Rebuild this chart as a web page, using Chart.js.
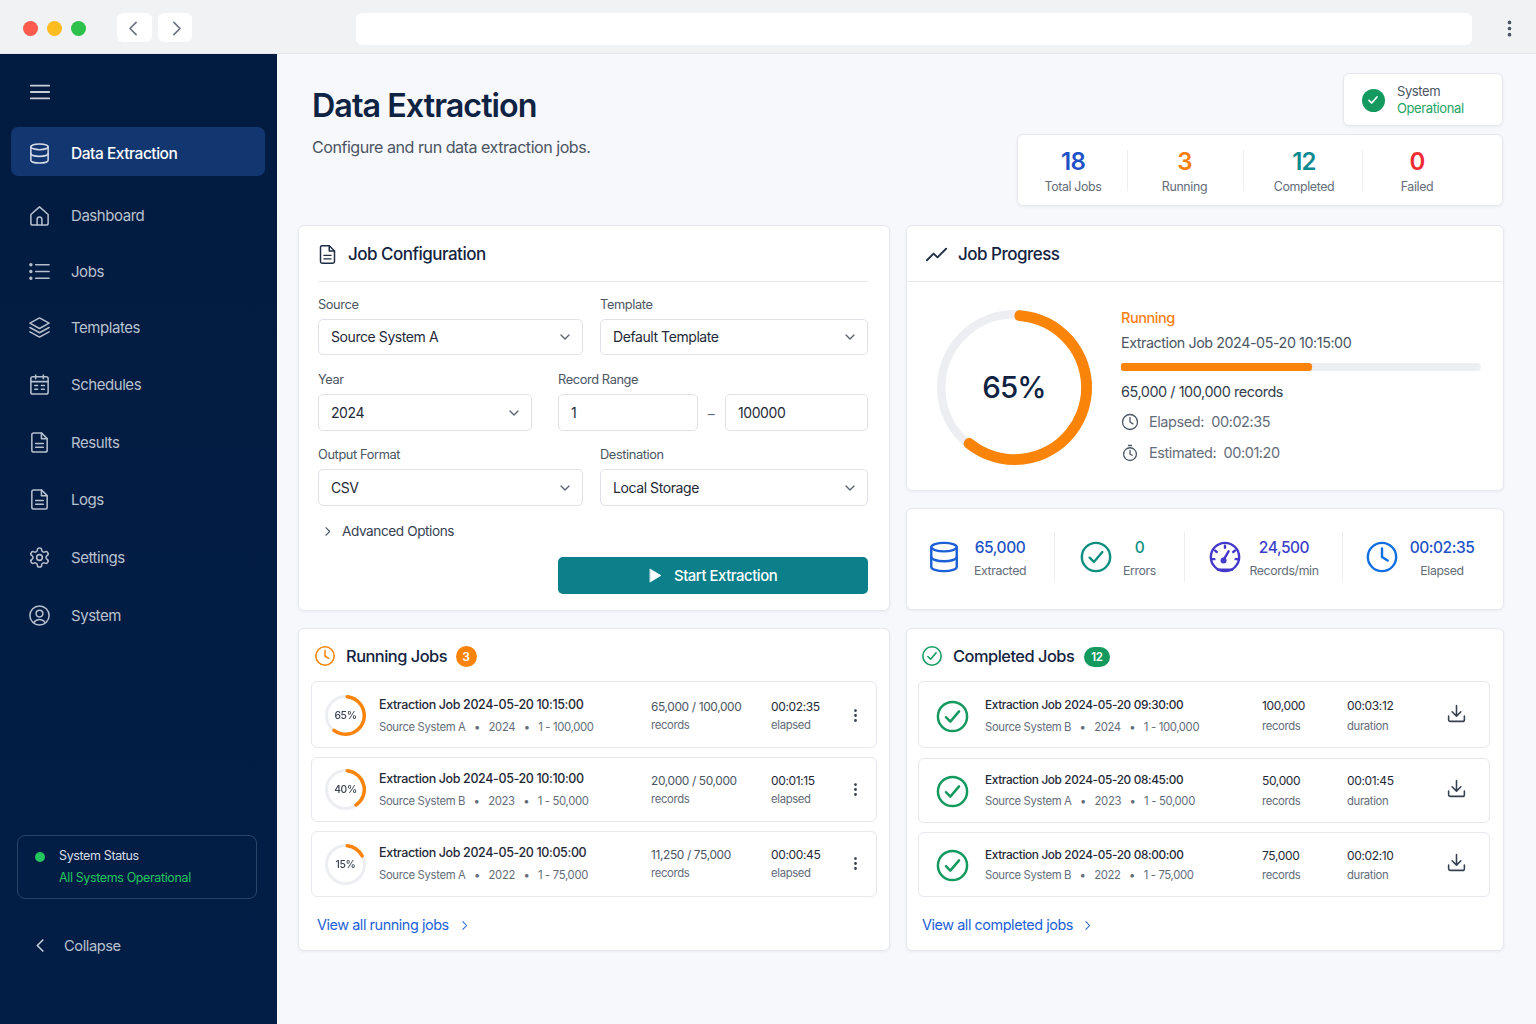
<!DOCTYPE html>
<html>
<head>
<meta charset="utf-8">
<title>Data Extraction</title>
<script src="https://cdn.jsdelivr.net/npm/chart.js@4"></script>
<style>
html, body { margin: 0; padding: 0; width: 1536px; height: 1024px; overflow: hidden; background: #f7f8fb; font-family: Inter, "Noto Sans", sans-serif; }
#app { position: relative; width: 1536px; height: 1024px; }
.box { position: absolute; box-sizing: border-box; }
.card { background: #fff; border: 1px solid #e6e8ee; border-radius: 6px; box-shadow: 0 1px 3px rgba(20, 30, 60, .06); }
.field { background: #fff; border: 1px solid #dfe2e8; border-radius: 5px; }
.txt { position: absolute; line-height: 1; white-space: pre; letter-spacing: -0.03em; transform: translateY(-50%); margin-top: .7px; }
.txt.mid { transform: translate(-50%, -50%); }
svg.ico { position: absolute; fill: none; stroke-linecap: round; stroke-linejoin: round; overflow: visible; }
</style>
</head>
<body>
<div id="app"></div>
<script>
// values
const navItems = ['Dashboard', 'Jobs', 'Templates', 'Schedules', 'Results', 'Logs', 'Settings', 'System'];
const headerStats = ['18', '3', '12', '0'];
const headerStatLabels = ['Total Jobs', 'Running', 'Completed', 'Failed'];
const metricValues = ['65,000', '0', '24,500', '00:02:35'];
const metricLabels = ['Extracted', 'Errors', 'Records/min', 'Elapsed'];

// the rings and the bar are drawn a little off their printed labels in the picture
const mainRingValue = 62;
const progressBarValue = 53;
const runningRingValues = [62, 42, 19];
const runningRingLabels = ['65%', '40%', '15%'];
const runningNames = ['Extraction Job 2024-05-20 10:15:00', 'Extraction Job 2024-05-20 10:10:00', 'Extraction Job 2024-05-20 10:05:00'];
const runningDetails = ['Source System A   •   2024   •   1 - 100,000', 'Source System B   •   2023   •   1 - 50,000', 'Source System A   •   2022   •   1 - 75,000'];
const runningRecords = ['65,000 / 100,000', '20,000 / 50,000', '11,250 / 75,000'];
const runningElapsed = ['00:02:35', '00:01:15', '00:00:45'];
const completedNames = ['Extraction Job 2024-05-20 09:30:00', 'Extraction Job 2024-05-20 08:45:00', 'Extraction Job 2024-05-20 08:00:00'];
const completedDetails = ['Source System B   •   2024   •   1 - 100,000', 'Source System A   •   2023   •   1 - 50,000', 'Source System B   •   2022   •   1 - 75,000'];
const completedRecords = ['100,000', '50,000', '75,000'];
const completedDurations = ['00:03:12', '00:01:45', '00:02:10'];

const ORANGE = '#f98409', GREEN = '#149a5e', BLUE = '#1d5fd6', TEAL = '#0b7f8a';
const INK = '#14233f', BODY = '#1f2937', GREY = '#4b5563', SOFT = '#646c7a';
const app = document.getElementById('app');

function box(x1, y1, x2, y2, cls, css) {
    const d = document.createElement('div');
    d.className = 'box ' + (cls || '');
    d.style.cssText = `left:${x1}px;top:${y1}px;width:${x2 - x1}px;height:${y2 - y1}px;` + (css || '');
    app.appendChild(d);
    return d;
}
function txt(x, y, s, size, color, weight, mid) {
    const d = document.createElement('div');
    d.className = 'txt' + (mid ? ' mid' : '');
    d.textContent = s;
    d.style.cssText = `left:${x}px;top:${y}px;font-size:${size}px;color:${color};font-weight:${weight || 400};`;
    app.appendChild(d);
}
const ICONS = {
    db: '<ellipse cx="12" cy="5" rx="9" ry="3"/><path d="M3 5v14c0 1.66 4 3 9 3s9-1.34 9-3V5"/><path d="M3 12c0 1.66 4 3 9 3s9-1.34 9-3"/>',
    home: '<path d="M3 11l9-8 9 8v9a2 2 0 0 1-2 2H5a2 2 0 0 1-2-2z"/><path d="M9.5 22v-6a2.5 2.5 0 0 1 5 0v6"/>',
    list: '<path d="M8 5h14M8 12h14M8 19h14"/><circle cx="3" cy="5" r="1" fill="#b6bfcd"/><circle cx="3" cy="12" r="1" fill="#b6bfcd"/><circle cx="3" cy="19" r="1" fill="#b6bfcd"/>',
    layers: '<path d="M12 2L2 7.5 12 13l10-5.5z"/><path d="M2 12l10 5.5L22 12"/><path d="M2 16.5L12 22l10-5.5"/>',
    calendar: '<rect x="3" y="4" width="18" height="18" rx="2"/><path d="M8 2v4M16 2v4M3 9h18M7 13h3M14 13h3M7 17h3M14 17h3"/>',
    doc: '<path d="M14 2H6a2 2 0 0 0-2 2v16a2 2 0 0 0 2 2h12a2 2 0 0 0 2-2V8z"/><path d="M14 2v6h6M8 13h8M8 17h8"/>',
    gear: '<path d="M12.22 2h-.44a2 2 0 0 0-2 2v.18a2 2 0 0 1-1 1.73l-.43.25a2 2 0 0 1-2 0l-.15-.08a2 2 0 0 0-2.73.73l-.22.38a2 2 0 0 0 .73 2.73l.15.1a2 2 0 0 1 1 1.72v.51a2 2 0 0 1-1 1.74l-.15.09a2 2 0 0 0-.73 2.73l.22.38a2 2 0 0 0 2.73.73l.15-.08a2 2 0 0 1 2 0l.43.25a2 2 0 0 1 1 1.73V20a2 2 0 0 0 2 2h.44a2 2 0 0 0 2-2v-.18a2 2 0 0 1 1-1.73l.43-.25a2 2 0 0 1 2 0l.15.08a2 2 0 0 0 2.73-.73l.22-.39a2 2 0 0 0-.73-2.73l-.15-.08a2 2 0 0 1-1-1.74v-.5a2 2 0 0 1 1-1.74l.15-.09a2 2 0 0 0 .73-2.73l-.22-.38a2 2 0 0 0-2.73-.73l-.15.08a2 2 0 0 1-2 0l-.43-.25a2 2 0 0 1-1-1.73V4a2 2 0 0 0-2-2z"/><circle cx="12" cy="12" r="3"/>',
    user: '<circle cx="12" cy="12" r="10"/><circle cx="12" cy="10" r="3.5"/><path d="M6 19.5a7 7 0 0 1 12 0"/>',
    clock: '<circle cx="12" cy="12" r="10"/><path d="M12 6v6l4 2.5"/>',
    timer: '<circle cx="12" cy="13.5" r="8.5"/><path d="M12 8.5v5l3 1.5M10 2h4"/>',
    check: '<circle cx="12" cy="12" r="10"/><path d="M7.5 12.5l3 3 6-7"/>',
    gauge: '<circle cx="12" cy="12" r="10"/><path d="M12 4v1.5M5 7.5l1.2 1M19 7.5l-1.2 1M3 13.5h1.5M21 13.5h-1.5M7 21h10M11 14l3.5-6"/><circle cx="11" cy="14.5" r="1.3"/>',
    trend: '<path d="M2 18l7-7 4 4 9-9"/>',
    download: '<path d="M21 15v4a2 2 0 0 1-2 2H5a2 2 0 0 1-2-2v-4"/><path d="M7 10l5 5 5-5M12 15V3"/>',
    down: '<path d="M6 9l6 6 6-6"/>',
    right: '<path d="M9 5l7 7-7 7"/>',
    left: '<path d="M15 5l-7 7 7 7"/>',
    menu: '<path d="M2 5h20M2 12h20M2 19h20"/>',
    vert: '<circle cx="12" cy="5" r="1"/><circle cx="12" cy="12" r="1"/><circle cx="12" cy="19" r="1"/>',
    play: '<path d="M6 3l15 9-15 9z"/>',
    tick: '<path d="M6 12.5l4 4 8-9"/>'
};
function icon(name, cx, cy, size, color, sw, fill) {
    const ns = 'http://www.w3.org/2000/svg';
    const s = document.createElementNS(ns, 'svg');
    s.setAttribute('class', 'ico');
    s.setAttribute('viewBox', '0 0 24 24');
    s.setAttribute('width', size);
    s.setAttribute('height', size);
    s.style.cssText = `left:${cx - size / 2}px;top:${cy - size / 2}px;stroke:${color};stroke-width:${sw || 2};fill:${fill || 'none'};`;
    s.innerHTML = ICONS[name];
    app.appendChild(s);
}

// browser bar
box(0, 0, 1536, 54, '', 'background:#f1f2f4;border-bottom:1px solid #e4e5e8;');
box(23, 20.5, 38, 35.5, '', 'background:#fc5b4e;border-radius:50%;');
box(47, 20.5, 62, 35.5, '', 'background:#fdbc1f;border-radius:50%;');
box(71, 20.5, 86, 35.5, '', 'background:#2bc14b;border-radius:50%;');
box(117, 13, 152, 42, '', 'background:#fff;border-radius:6px;');
box(158, 13, 192, 42, '', 'background:#fff;border-radius:6px;');
icon('left', 133, 28, 21, '#6b7280', 1.9);
icon('right', 176, 28, 21, '#6b7280', 1.9);
box(356, 13, 1472, 45, '', 'background:#fff;border-radius:6px;');
icon('vert', 1509, 28, 21, '#4b5563', 2.2, '#4b5563');

// sidebar
box(0, 54, 277, 1024, '', 'background:linear-gradient(180deg,#021b40,#021e46);');
icon('menu', 39.5, 92, 22, '#c9d0da', 2);
box(11, 127, 265, 176, '', 'background:#12366f;border-radius:7px;');
icon('db', 39.5, 153, 23, '#d5dbe6', 1.6);
txt(71, 153, 'Data Extraction', 15.5, '#fff', 500);
const navIcons = ['home', 'list', 'layers', 'calendar', 'doc', 'doc', 'gear', 'user'];
const navY = [215, 271, 327, 384, 442, 499, 557, 615];
navItems.forEach((n, i) => {
    icon(navIcons[i], 39.5, navY[i], 23, '#b6bfcd', 1.6);
    txt(71, navY[i] - 1, n, 15, '#b9c2d0');
});
box(17, 835, 257, 899, '', 'border:1px solid #2a4468;border-radius:8px;');
box(35, 852, 45, 862, '', 'background:#22c55e;border-radius:50%;');
txt(59, 855, 'System Status', 12.5, '#d8dee8');
txt(59, 877, 'All Systems Operational', 12.5, '#22c55e');
icon('left', 40, 945, 19, '#c9d0da', 2);
txt(64, 945, 'Collapse', 14.7, '#b9c2d0');

// page header
txt(312, 105.5, 'Data Extraction', 32.3, '#0f2342', 600);
txt(312, 146, 'Configure and run data extraction jobs.', 16.1, GREY);
box(1343, 73, 1503, 126, 'card');
box(1361.5, 88.5, 1384.5, 111.5, '', `background:${GREEN};border-radius:50%;`);
icon('tick', 1373, 100, 16, '#fff', 2.6);
txt(1397, 90, 'System', 13, GREY);
txt(1397, 107, 'Operational', 13, '#22a565');
box(1017, 134, 1503, 205.5, 'card');
const statX = [1073, 1184.5, 1304, 1417];
const statColors = ['#1d52c6', '#f97f0f', '#0c8a8f', '#ef2b33'];
headerStats.forEach((s, i) => {
    txt(statX[i], 161, s, 24, statColors[i], 600, true);
    txt(statX[i], 186, headerStatLabels[i], 12.4, SOFT, 400, true);
});
[1127, 1243, 1362].forEach(x => box(x, 150, x + 1, 191, '', 'background:#eceef2;'));

// job configuration
box(297.5, 224.5, 889.5, 611, 'card');
icon('doc', 327, 254, 21, '#1f2d45', 1.7);
txt(348, 253, 'Job Configuration', 17, INK, 500);
box(318, 281, 868, 282, '', 'background:#e6e8ee;');
function field(x1, y1, x2, y2, value, arrow) {
    box(x1, y1, x2, y2, 'field');
    txt(x1 + 13, Math.ceil((y1 + y2) / 2) - .5, value, 14, BODY);
    if (arrow) icon('down', x2 - 18, (y1 + y2) / 2, 16, '#5c6472', 2);
}
txt(318, 304, 'Source', 12.8, GREY);
txt(600, 304, 'Template', 12.8, GREY);
field(318, 319, 583, 355, 'Source System A', true);
field(600, 319, 868, 355, 'Default Template', true);
txt(318, 379, 'Year', 12.8, GREY);
txt(558, 379, 'Record Range', 12.8, GREY);
field(318, 394, 532, 431, '2024', true);
field(558, 394, 698, 431, '1');
txt(711, 413, '–', 14, SOFT, 400, true);
field(725, 394, 868, 431, '100000');
txt(318, 454, 'Output Format', 12.8, GREY);
txt(600, 454, 'Destination', 12.8, GREY);
field(318, 469, 583, 506, 'CSV', true);
field(600, 469, 868, 506, 'Local Storage', true);
icon('right', 327, 531, 13, '#4b5563', 2);
txt(342, 531, 'Advanced Options', 13.6, '#374151');
box(558, 557, 868, 594, '', `background:${TEAL};border-radius:5px;`);
icon('play', 654, 575, 17, '#fff', 1, '#fff');
txt(674, 575, 'Start Extraction', 14.9, '#fff', 500);

// job progress
box(905.5, 224.5, 1503.5, 490.5, 'card');
icon('trend', 936, 254, 23, '#1f2d45', 1.9);
txt(958, 253, 'Job Progress', 17, INK, 500);
box(906, 281, 1503, 282, '', 'background:#e6e8ee;');
txt(1121, 317, 'Running', 14.5, '#f97f0f', 500);
txt(1121, 342, 'Extraction Job 2024-05-20 10:15:00', 14.3, GREY);
txt(1121, 391, '65,000 / 100,000 records', 14.4, '#333d4d');
icon('clock', 1130, 422, 18, '#4b5563', 1.7);
txt(1149, 421, 'Elapsed:  00:02:35', 14.5, SOFT);
icon('timer', 1130, 453, 18, '#4b5563', 1.7);
txt(1149, 452, 'Estimated:  00:01:20', 14.5, SOFT);
txt(1014, 387, '65%', 29.5, '#0f2342', 500, true);

// metrics strip
box(905.5, 507.5, 1503.5, 609.5, 'card');
const metricIcons = ['db', 'check', 'gauge', 'clock'];
const metricIconX = [944, 1096, 1225, 1382];
const metricColors = ['#1d5fd6', '#0d8f7f', '#4338ca', '#0f6fe0'];
const metricValueX = [1000, 1139.5, 1284, 1442];
const metricValueColors = ['#1d52c6', '#0d8f7f', '#3b3fc9', '#1d52c6'];
metricValues.forEach((v, i) => {
    icon(metricIcons[i], metricIconX[i], 557, 34, metricColors[i], 1.7);
    txt(metricValueX[i], 547, v, 15.5, metricValueColors[i], 500, true);
    txt(metricValueX[i], 570, metricLabels[i], 12.3, SOFT, 400, true);
});
[1054, 1184, 1342].forEach(x => box(x, 532, x + 1, 582, '', 'background:#eceef2;'));

// running jobs
box(297.5, 627.5, 889.5, 950.5, 'card');
icon('clock', 325, 656, 22, ORANGE, 1.7);
txt(346, 655, 'Running Jobs', 16.4, INK, 500);
box(455.5, 645.5, 477, 667, '', `background:${ORANGE};border-radius:50%;`);
txt(466, 656, '3', 12, '#fff', 600, true);
const runRowTop = [681, 757, 831], runRowBottom = [748, 822, 897];
const runRingY = [715, 789.5, 864];
runningNames.forEach((name, i) => {
    box(311, runRowTop[i], 877, runRowBottom[i], '', 'border:1px solid #e6e8ee;border-radius:6px;background:#fff;');
    txt(379, [704, 778, 852][i], name, 12.5, BODY, 500);
    txt(379, [727, 801, 875][i], runningDetails[i], 11.3, SOFT);
    txt(651, [706, 780, 854][i], runningRecords[i], 11.9, GREY);
    txt(651, [725, 799, 873][i], 'records', 11.3, SOFT);
    txt(771, [706, 780, 854][i], runningElapsed[i], 12, BODY);
    txt(771, [725, 799, 873][i], 'elapsed', 11.3, SOFT);
    icon('vert', 855, [715, 789, 863][i], 17, '#374151', 2, '#374151');
});
txt(317, 924, 'View all running jobs', 14.4, BLUE);
icon('right', 464, 925, 13, BLUE, 1.9);

// completed jobs
box(905.5, 627.5, 1503.5, 950.5, 'card');
icon('check', 932, 656, 22, GREEN, 1.7);
txt(953, 655, 'Completed Jobs', 16.4, INK, 500);
box(1084, 647, 1110, 667, '', `background:${GREEN};border-radius:10px;`);
txt(1097, 657, '12', 11.5, '#fff', 600, true);
const doneRowTop = [681, 758, 832], doneRowBottom = [748, 823, 897];
completedNames.forEach((name, i) => {
    box(918, doneRowTop[i], 1490, doneRowBottom[i], '', 'border:1px solid #e6e8ee;border-radius:6px;background:#fff;');
    icon('check', 952.5, [716, 791, 865][i], 35, GREEN, 1.7);
    txt(985, [705, 780, 855][i], name, 11.8, BODY, 500);
    txt(985, [727, 801, 875][i], completedDetails[i], 11.3, SOFT);
    txt(1262, [705, 780, 855][i], completedRecords[i], 12, BODY);
    txt(1262, [726, 801, 875][i], 'records', 11.3, SOFT);
    txt(1347, [705, 780, 855][i], completedDurations[i], 12, BODY);
    txt(1347, [726, 801, 875][i], 'duration', 11.3, SOFT);
    icon('download', 1456, [713, 788, 862][i], 21, '#374151', 1.8);
});
txt(922, 924, 'View all completed jobs', 14.4, BLUE);
icon('right', 1087, 925, 13, BLUE, 1.9);

// charts
Chart.defaults.animation = false;
Chart.defaults.plugins.legend.display = false;
Chart.defaults.plugins.tooltip.enabled = false;

// grey full circle behind each ring
const ringTrack = {
    id: 'ringTrack',
    beforeDatasetsDraw(chart, args, opts) {
        const arc = chart.getDatasetMeta(0).data[0];
        const c = chart.ctx;
        c.save();
        c.beginPath();
        c.lineWidth = opts.width;
        c.strokeStyle = opts.color;
        c.arc(arc.x, arc.y, arc.outerRadius - opts.width / 2, 0, Math.PI * 2);
        c.stroke();
        c.restore();
    }
};

function canvasAt(cx, cy, w, h) {
    const holder = box(cx - w / 2, cy - h / 2, cx + w / 2, cy + h / 2);
    const cv = document.createElement('canvas');
    holder.appendChild(cv);
    return cv;
}
function ring(cx, cy, size, value, cutout, radius, trackWidth) {
    return new Chart(canvasAt(cx, cy, size, size), {
        type: 'doughnut',
        data: {
            labels: ['Done', 'Left'],
            datasets: [{
                data: [value, 100 - value],
                backgroundColor: [ORANGE, 'transparent'],
                borderWidth: 0,
                borderRadius: [radius, 0]
            }]
        },
        options: {
            responsive: true,
            maintainAspectRatio: false,
            cutout: cutout,
            plugins: { ringTrack: { color: '#eceef1', width: trackWidth } }
        },
        plugins: [ringTrack]
    });
}
ring(1014, 387, 155, mainRingValue, '86%', 5, 8.5);
runningRingValues.forEach((v, i) => {
    ring(345.5, runRingY[i], 41, v, '83%', 2, 3);
    txt(345.5, runRingY[i] - .7, runningRingLabels[i], 10.3, '#374151', 500, true);
});

box(1121, 363, 1481, 371, '', 'background:#eceef1;border-radius:4px;');
new Chart(canvasAt(1301, 367, 360, 8), {
    type: 'bar',
    data: {
        labels: ['Progress'],
        datasets: [{
            data: [progressBarValue],
            backgroundColor: ORANGE,
            borderRadius: 4,
            borderSkipped: false,
            categoryPercentage: 1,
            barPercentage: 1
        }]
    },
    options: {
        indexAxis: 'y',
        responsive: true,
        maintainAspectRatio: false,
        scales: {
            x: { display: false, min: 0, max: 100 },
            y: { display: false }
        }
    }
});
</script>
</body>
</html>
